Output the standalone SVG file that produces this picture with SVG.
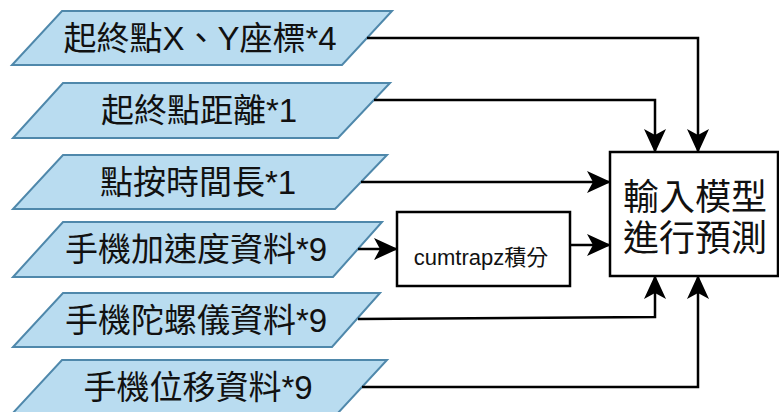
<svg xmlns="http://www.w3.org/2000/svg" width="779" height="412" viewBox="0 0 779 412">
<style>
.para{fill:#b9dcf0;stroke:#4f88ab;stroke-width:2;stroke-linejoin:miter}
.lbl{font-family:"Liberation Sans","Noto Sans CJK TC",sans-serif;font-size:33px;fill:#111;text-anchor:middle}
.box{fill:#fff;stroke:#000;stroke-width:2.5}
.conn{fill:none;stroke:#000;stroke-width:2.5}
</style>
<defs>
<marker id="arr" markerUnits="userSpaceOnUse" markerWidth="24" markerHeight="22" refX="23" refY="11" orient="auto" viewBox="0 0 24 22">
<path d="M0,0 L24,11 L0,22 L6,11 z" fill="#000"/>
</marker>
</defs>
<rect width="779" height="412" fill="#fff"/>
<g id="n1"><polygon class="para" points="62,11 392,11 342,65 12,65"/><text class="lbl" x="200" y="50">起終點X、Y座標*4</text></g>
<g id="n2"><polygon class="para" points="63,83 390,83 338,138 13,138"/><text class="lbl" x="199" y="122">起終點距離*1</text></g>
<g id="n3"><polygon class="para" points="63,155 387,155 335,209 13,209"/><text class="lbl" x="198" y="194">點按時間長*1</text></g>
<g id="n4"><polygon class="para" points="63,222 382,222 333,277 13,277"/><text class="lbl" x="196" y="261">手機加速度資料*9</text></g>
<g id="n5"><polygon class="para" points="63,293 380,293 332,347 13,347"/><text class="lbl" x="196" y="332">手機陀螺儀資料*9</text></g>
<g id="n6"><polygon class="para" points="62,360 387,360 337,414 12,414"/><text class="lbl" x="198" y="399">手機位移資料*9</text></g>
<g id="cumtrapz"><rect class="box" x="397" y="212" width="173" height="74"/><text x="481" y="265" font-family="Liberation Sans, Noto Sans CJK TC, sans-serif" font-size="22" text-anchor="middle" fill="#111">cumtrapz積分</text></g>
<g id="model"><rect class="box" x="610" y="152" width="168" height="124"/><text font-family="Liberation Sans, Noto Sans CJK TC, sans-serif" font-size="36" text-anchor="middle" fill="#111"><tspan x="695" y="210">輸入模型</tspan><tspan x="695" y="251">進行預測</tspan></text></g>
<g id="connectors">
<path class="conn" d="M367,38 H698 V152" marker-end="url(#arr)"/>
<path class="conn" d="M374,100 H655 V152" marker-end="url(#arr)"/>
<path class="conn" d="M361,182 H610" marker-end="url(#arr)"/>
<path class="conn" d="M358,249 H397" marker-end="url(#arr)"/>
<path class="conn" d="M570,245 H610" marker-end="url(#arr)"/>
<path class="conn" d="M358,319 L655,317 V276" marker-end="url(#arr)"/>
<path class="conn" d="M362,387 H698 V276" marker-end="url(#arr)"/>
</g>
</svg>
